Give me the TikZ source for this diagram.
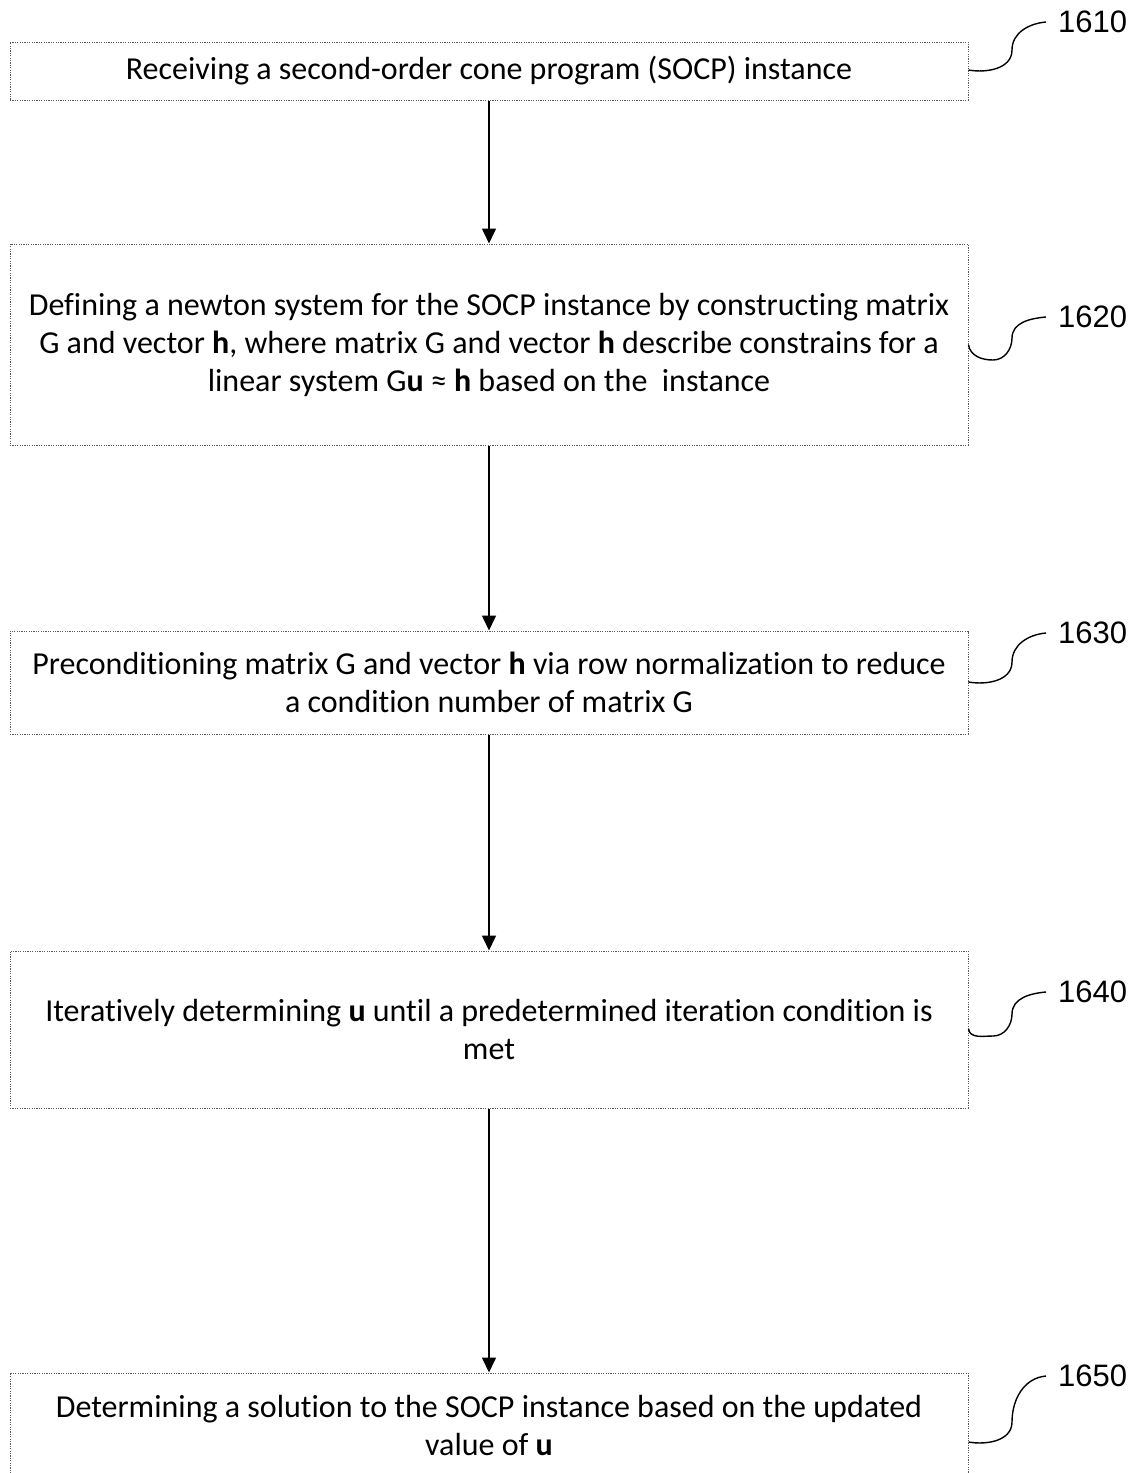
\documentclass[tikz,border=0pt]{standalone}
\usepackage{fontspec}
\setmainfont{Carlito}[Ligatures=NoCommon]
\newfontfamily\labelfont{Liberation Sans}
\usetikzlibrary{arrows.meta}

\tikzset{
  stepbox/.style={draw=black!65, dash pattern=on 1.2pt off 1.2pt, line width=1pt,
    rectangle, minimum width=958pt, inner sep=0pt, align=center,
    font=\fontsize{32pt}{38pt}\selectfont},
  flow/.style={line width=1.6pt, -{Triangle[length=15pt,width=14pt]}},
  reflabel/.style={anchor=west, inner sep=0pt, font=\labelfont\fontsize{31pt}{31pt}\selectfont},
  leader/.style={line width=1.4pt}
}

\begin{document}
\begin{tikzpicture}[x=1pt, y=-1pt]
  \useasboundingbox (0,0) rectangle (1136,1473);

  % process steps
  \node[stepbox, minimum height=58pt] (b1) at (489,71)
    {Receiving a second-order cone program (SOCP) instance};
  \node[stepbox, minimum height=201pt] (b2) at (489,344.5)
    {Defining a newton system for the SOCP instance by constructing matrix\\
     G and vector \textbf{h}, where matrix G and vector \textbf{h} describe constrains for a\\
     linear system G\textbf{u} ≈ \textbf{h} based on the \ instance};
  \node[stepbox, minimum height=103pt] (b3) at (489,682.5)
    {Preconditioning matrix G and vector \textbf{h} via row normalization to reduce\\
     a condition number of matrix G};
  \node[stepbox, minimum height=157pt] (b4) at (489,1029.5)
    {Iteratively determining \textbf{u} until a predetermined iteration condition is\\
     met};
  \node[stepbox, minimum height=104pt] (b5) at (489,1425)
    {Determining a solution to the SOCP instance based on the updated\\
     value of \textbf{u}};

  % flow arrows
  \draw[flow] (b1.south) -- (b2.north);
  \draw[flow] (b2.south) -- (b3.north);
  \draw[flow] (b3.south) -- (b4.north);
  \draw[flow] (b4.south) -- (b5.north);

  % reference numerals
  \node[reflabel] (l1) at (1058,22) {1610};
  \node[reflabel] (l2) at (1058,317) {1620};
  \node[reflabel] (l3) at (1058,633) {1630};
  \node[reflabel] (l4) at (1058,992) {1640};
  \node[reflabel] (l5) at (1058,1376) {1650};

  % leader lines
  \coordinate (s1) at (b1.east |- 0,70);
  \coordinate (s2) at (b2.east |- 0,345);
  \coordinate (s3) at (b3.east |- 0,682);
  \coordinate (s4) at (b4.east |- 0,1029);
  \coordinate (s5) at (b5.east |- 0,1442);

  \draw[leader] (s1) to[out=-10,in=-90] (1012,50) to[out=90,in=185] ([xshift=-12pt]l1.west);
  \draw[leader] (s2) to[out=-80,in=180] (993,360) to[out=0,in=-90] (1012,338) to[out=90,in=185] ([xshift=-12pt]l2.west);
  \draw[leader] (s3) to[out=-10,in=-90] (1012,662) to[out=90,in=185] ([xshift=-12pt]l3.west);
  \draw[leader] (s4) to[out=-80,in=180] (993,1036) to[out=0,in=-90] (1012,1014) to[out=90,in=185] ([xshift=-12pt]l4.west);
  \draw[leader] (s5) to[out=-10,in=-90] (1012,1422) to[out=90,in=185] ([xshift=-12pt]l5.west);
\end{tikzpicture}
\end{document}
